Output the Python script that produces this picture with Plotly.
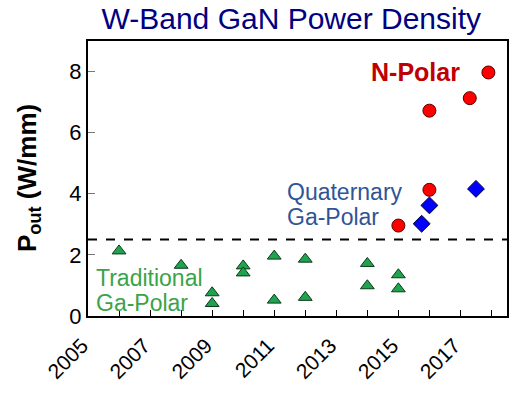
import plotly.graph_objects as go

# Traditional Ga-Polar (triangles)
trad_year = [2006.0, 2008.0, 2009.0, 2009.0, 2010.0, 2010.0, 2011.0, 2011.0,
             2012.0, 2012.0, 2014.0, 2014.0, 2015.0, 2015.0]
trad_pout = [2.13, 1.66, 0.76, 0.41, 1.64, 1.41, 1.96, 0.52,
             1.86, 0.61, 1.72, 0.99, 1.35, 0.89]

# N-Polar (circles)
npol_year = [2015.0, 2016.0, 2016.0, 2017.3, 2017.9]
npol_pout = [2.96, 4.13, 6.72, 7.13, 7.97]

# Quaternary Ga-Polar (diamonds)
quat_year = [2015.75, 2016.0, 2017.5]
quat_pout = [3.02, 3.62, 4.16]

threshold = 2.5
tick_years = list(range(2005, 2019))
tick_labels = [str(y) if y % 2 == 1 else "" for y in tick_years]

FONT = "Arial, Liberation Sans, sans-serif"

fig = go.Figure()

fig.add_hline(y=threshold, line=dict(color="black", width=2, dash="dash"))

fig.add_trace(go.Scatter(
    x=trad_year, y=trad_pout, mode="markers",
    marker=dict(symbol="triangle-up", size=12, color="#1FA34F",
                line=dict(color="#0B3B1A", width=1)),
    showlegend=False))
fig.add_trace(go.Scatter(
    x=npol_year, y=npol_pout, mode="markers",
    marker=dict(symbol="circle", size=13, color="#FF0000",
                line=dict(color="#5A0000", width=1)),
    showlegend=False))
fig.add_trace(go.Scatter(
    x=quat_year, y=quat_pout, mode="markers",
    marker=dict(symbol="diamond", size=13, color="#0000FF",
                line=dict(color="#00003A", width=1)),
    showlegend=False))

fig.add_annotation(x=2015.55, y=7.97, text="<b>N-Polar</b>", showarrow=False,
                   font=dict(family=FONT, size=25, color="#C00000"))
fig.add_annotation(x=2011.35, y=4.06, xanchor="left", text="Quaternary",
                   showarrow=False, font=dict(family=FONT, size=23, color="#2F5597"))
fig.add_annotation(x=2011.35, y=3.24, xanchor="left", text="Ga-Polar",
                   showarrow=False, font=dict(family=FONT, size=23, color="#2F5597"))
fig.add_annotation(x=2005.2, y=1.24, xanchor="left", text="Traditional",
                   showarrow=False, font=dict(family=FONT, size=23, color="#3BA348"))
fig.add_annotation(x=2005.2, y=0.42, xanchor="left", text="Ga-Polar",
                   showarrow=False, font=dict(family=FONT, size=23, color="#3BA348"))

# y-axis title placed as a rotated annotation
fig.add_annotation(xref="paper", yref="paper", x=-0.142, y=0.5,
                   xanchor="center", yanchor="middle",
                   text="<b>P<sub>out</sub> (W/mm)</b>", textangle=-90,
                   showarrow=False, font=dict(family=FONT, size=26, color="black"))

fig.update_layout(
    width=522, height=412,
    margin=dict(l=88, r=15, t=41, b=96),
    paper_bgcolor="white", plot_bgcolor="white",
    font=dict(family=FONT, color="black"),
    title=dict(text="W-Band GaN Power Density", x=0.558, xanchor="center",
               yref="container", y=0.954, yanchor="middle", pad=dict(t=0, b=0),
               font=dict(size=30, color="#000080")),
    xaxis=dict(range=[2005, 2018.5], tickmode="array", tickvals=tick_years,
               ticktext=tick_labels, tickangle=-45, ticks="inside", ticklen=6,
               tickcolor="black", showgrid=False, zeroline=False,
               showline=True, linecolor="black", linewidth=2, mirror=True,
               tickfont=dict(size=21), ticklabelstandoff=7, ticklabelshift=-6),
    yaxis=dict(range=[0, 9], tickvals=[0, 2, 4, 6, 8], ticks="inside", ticklen=7,
               tickcolor="#777", showgrid=False, zeroline=False,
               showline=True, linecolor="black", linewidth=2, mirror=True,
               tickfont=dict(size=22), ticksuffix="\u00a0"),
)

fig.write_html("out.html")
